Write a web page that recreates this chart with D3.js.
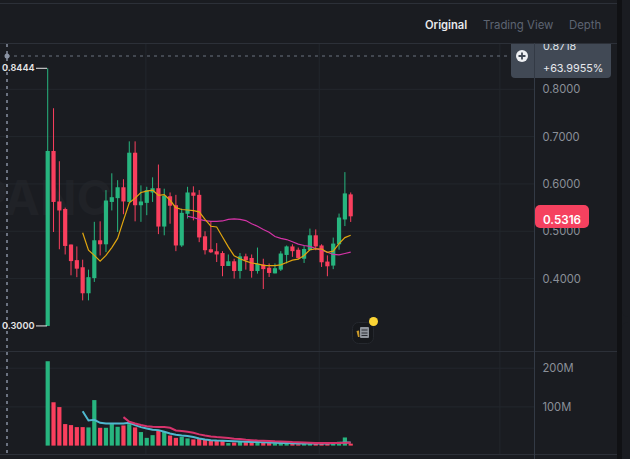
<!DOCTYPE html>
<html>
<head>
<meta charset="utf-8">
<script src="https://cdn.jsdelivr.net/npm/d3@7/dist/d3.min.js"></script>
<style>
html,body{margin:0;padding:0;background:#1a1c21;overflow:hidden}
svg{display:block}
text{font-family:Inter,"Noto Sans",sans-serif}
</style>
</head>
<body>
<svg id="chart" width="630" height="459"></svg>
<script>
// Candle series, oldest first
const opens  = [.3,.6697,.563,.547,.472,.439,.424,.369,.401,.481,.4725,.562,.570,.593,.562,.666,.555,.56,.582,.591,.51,.574,.555,.47,.537,.582,.577,.4894,.462,.4577,.454,.4267,.4366,.416,.447,.4436,.416,.43,.423,.411,.419,.45,.468,.461,.442,.46,.4915,.47,.436,.4275,.4725,.525,.578];
const closes = [.6697,.562,.544,.469,.437,.421,.369,.403,.481,.4725,.565,.572,.593,.563,.666,.555,.563,.587,.591,.51,.575,.554,.47,.539,.582,.575,.487,.46,.4556,.451,.4267,.4366,.416,.447,.4387,.416,.431,.42,.412,.422,.453,.468,.458,.4436,.4626,.4915,.468,.4345,.426,.474,.529,.58,.5316];
const highs  = [.8444,.76,.648,.55,.472,.468,.44,.419,.52,.521,.587,.6225,.608,.61,.69,.69,.597,.594,.614,.641,.59,.582,.577,.548,.594,.595,.587,.5,.5197,.475,.458,.451,.442,.454,.4527,.451,.4656,.442,.432,.432,.458,.47,.4725,.4656,.47,.5057,.504,.4725,.449,.4867,.5374,.625,.582];
const lows   = [.3,.4985,.462,.451,.407,.403,.354,.354,.393,.449,.456,.544,.4985,.536,.562,.521,.52,.534,.562,.494,.4915,.516,.458,.467,.527,.523,.477,.451,.454,.435,.405,.4267,.40,.40,.419,.402,.4106,.378,.4035,.411,.416,.432,.446,.441,.433,.46,.46,.4246,.405,.42,.461,.511,.5197];

// Moving averages on price; null until the window fills
const maFast = [null,null,null,null,null,null,.497,.46,.449,.437,.449,.4656,.485,.523,.56,.57,.582,.585,.587,.576,.5775,.5655,.55,.546,.545,.5437,.541,.525,.5106,.509,.488,.467,.448,.442,.437,.433,.431,.428,.4275,.4275,.429,.434,.439,.441,.449,.461,.463,.4626,.4556,.458,.474,.4867,.4915];
const maSlow = [null,null,null,null,null,null,null,null,null,null,null,null,null,null,null,null,null,null,null,null,null,null,null,null,.5317,.529,.525,.5226,.521,.521,.5218,.525,.526,.525,.5226,.516,.5106,.5036,.498,.489,.485,.4825,.478,.473,.47,.468,.4634,.46,.4556,.451,.45,.453,.456];

// Traded volume in millions and its two averages
const volumes = [218,112,99.5,55.6,53,47.8,47.8,47,117.6,46,46,55.6,48.6,52,55.6,47,35,20,27,40,35.7,26,20,22.7,18.6,16,17,16,14,12.5,12.5,6.5,8,11.5,9,8,8,7,6.5,6,7,5,4,3.5,4,6,4.5,5,4,9,10,21,5];
const volMaFast = [null,null,null,null,null,null,89,65,66.7,59,57,57,57,57,59,53,47.8,44.4,41,40,35.7,31.5,28,26,25,22,18.6,16,14,13,12.5,11.6,11,10.5,10,9.5,9,8.5,8,7.5,7,6.5,6,5.5,5.5,5.5,5.5,5.5,5.5,6,6.5,8,8];
const volMaSlow = [null,null,null,null,null,null,null,null,null,null,null,null,null,73.6,61.5,57,53,50,48.6,47.8,47.8,46,39,37.5,35.7,33,29,26,23.5,22,21,19.4,17.6,17,15,14,13,12.5,12,11,10.5,10,9,8.5,8,7.5,7,6.5,6.5,6.5,7,7.5,7.5];

const priceTicks = [0.4,0.5,0.6,0.7,0.8];
const volumeTicks = [100,200];
const verticalGrid = [16.85,46.6,77.6];
const tabs = [["Original",425,"#e8e9ec",600,11.2],["Trading View",483,"#5d6472",400,11.4],["Depth",569,"#5d6472",400,11.4]];

const BG="#1a1c21", GRID="#23272d", FRAME="#2c3038", GREEN="#27b57f", RED="#fa3f5e";
const svg = d3.select("#chart");
const index = d3.range(opens.length);

const x = d3.scaleLinear().domain([0,52]).range([47.7,350.7]);
const y = d3.scaleLinear().domain([0.4,0.8]).range([278.6,89.3]);
const v = d3.scaleLinear().domain([0,200]).range([445.6,368.2]);

svg.append("rect").attr("width",630).attr("height",459).attr("fill",BG);

// Faint exchange watermark behind the candles
svg.append("text").attr("x",-23).attr("y",215).attr("font-size",48).attr("font-weight",700)
  .attr("fill","#202227").text("PANC");

// Grid
const grid = svg.append("g").attr("stroke",GRID).attr("stroke-width",1);
priceTicks.forEach(t=>grid.append("line").attr("x1",0).attr("x2",534).attr("y1",y(t)).attr("y2",y(t)));
volumeTicks.forEach(t=>grid.append("line").attr("x1",0).attr("x2",534).attr("y1",v(t)).attr("y2",v(t)));
verticalGrid.forEach(i=>grid.append("line").attr("x1",x(i)).attr("x2",x(i)).attr("y1",43).attr("y2",454));

// Panel frame
const frame = [[0,617,3.5],[0,617,43.5],[0,617,351.5],[0,617,454.5]];
svg.selectAll(".frame").data(frame).join("line").attr("class","frame")
  .attr("x1",d=>d[0]).attr("x2",d=>d[1]).attr("y1",d=>d[2]).attr("y2",d=>d[2]).attr("stroke",FRAME);
svg.append("line").attr("x1",534.5).attr("x2",534.5).attr("y1",43).attr("y2",459).attr("stroke","#333a45");

// Dark gutter and the neighbouring panel on the right edge
svg.append("rect").attr("x",617).attr("y",0).attr("width",5).attr("height",459).attr("fill","#101114");
svg.append("rect").attr("x",622).attr("y",-5).attr("width",14).attr("height",322).attr("rx",6).attr("fill","#1a1c21");
svg.append("rect").attr("x",622).attr("y",322).attr("width",14).attr("height",142).attr("rx",6).attr("fill","#1a1c21");

// Tabs
tabs.forEach(t=>svg.append("text").attr("x",t[1]).attr("y",29).attr("font-size",t[4])
  .attr("font-weight",t[3]).attr("fill",t[2]).text(t[0]));

// Crosshair
const dash="3,4";
svg.append("line").attr("x1",7).attr("x2",511).attr("y1",56).attr("y2",56)
  .attr("stroke","#6b7280").attr("stroke-width",1.2).attr("stroke-dasharray",dash);
svg.append("line").attr("x1",7).attr("x2",7).attr("y1",44).attr("y2",454)
  .attr("stroke","#6b7280").attr("stroke-width",2).attr("stroke-dasharray",dash);
svg.append("circle").attr("cx",7).attr("cy",56).attr("r",2.5).attr("fill","#8a93a3");

// Candles
const candle = svg.append("g").selectAll("g").data(index).join("g")
  .attr("fill",i=>closes[i]>=opens[i]?GREEN:RED);
candle.append("rect").attr("x",i=>x(i)-0.5).attr("width",1)
  .attr("y",i=>y(highs[i])).attr("height",i=>y(lows[i])-y(highs[i]));
candle.append("rect").attr("x",i=>x(i)-2.1).attr("width",4.2)
  .attr("y",i=>y(Math.max(opens[i],closes[i])))
  .attr("height",i=>Math.max(1,Math.abs(y(opens[i])-y(closes[i]))));

// Price averages
const priceLine = d3.line().defined(i=>i[1]!==null).x(d=>x(d[0])).y(d=>y(d[1]));
const pairs = s=>s.map((d,i)=>[i,d]);
svg.append("path").attr("d",priceLine(pairs(maSlow))).attr("fill","none").attr("stroke","#d433a6").attr("stroke-width",1.2);
svg.append("path").attr("d",priceLine(pairs(maFast))).attr("fill","none").attr("stroke","#e0a50f").attr("stroke-width",1.2);

// Volume bars and averages
svg.append("g").selectAll("rect").data(index).join("rect")
  .attr("x",i=>x(i)-2.1).attr("width",4.2)
  .attr("y",i=>v(volumes[i])).attr("height",i=>v(0)-v(volumes[i]))
  .attr("fill",i=>closes[i]>=opens[i]?GREEN:RED);
const volLine = d3.line().defined(d=>d[1]!==null).x(d=>x(d[0])).y(d=>v(d[1]));
svg.append("path").attr("d",volLine(pairs(volMaFast))).attr("fill","none").attr("stroke","#4fb9cf").attr("stroke-width",2);
svg.append("path").attr("d",volLine(pairs(volMaSlow))).attr("fill","none").attr("stroke","#d6336c").attr("stroke-width",2);

// Right-hand axes
const priceAxis = d3.axisRight(y).tickValues(priceTicks).tickFormat(d3.format(".4f")).tickSize(0).tickPadding(8);
const volumeAxis = d3.axisRight(v).tickValues(volumeTicks).tickFormat(d=>d+"M").tickSize(0).tickPadding(8);
[priceAxis,volumeAxis].forEach(a=>{
  const g = svg.append("g").attr("transform","translate(534.5,0)").call(a);
  g.select(".domain").remove();
  g.selectAll("text").attr("fill","#8b9099").attr("font-size",11.2).attr("font-family","Inter,'Noto Sans',sans-serif");
});

// Extremes with leader lines
[0.8444,0.3].forEach(p=>{
  svg.append("line").attr("x1",36).attr("x2",47).attr("y1",y(p)).attr("y2",y(p)).attr("stroke","#e6e6e6");
  svg.append("text").attr("x",2).attr("y",y(p)+3).attr("font-size",9.2).attr("font-weight",600)
    .attr("fill","#e6e6e6").text(p.toFixed(4));
});

// Last price tag
svg.append("rect").attr("x",535).attr("y",205).attr("width",54).attr("height",23).attr("rx",5).attr("fill","#f5415f");
svg.append("text").attr("x",562).attr("y",223.5).attr("text-anchor","middle").attr("font-size",11.7).attr("font-weight",600)
  .attr("fill","#fff").text(closes[52].toFixed(4));

// Crosshair price tag with add button
svg.append("path").attr("d","M511,44H611V74a4,4 0 0 1 -4,4H515a4,4 0 0 1 -4,-4Z").attr("fill","#414955");
svg.append("line").attr("x1",534.5).attr("x2",534.5).attr("y1",44).attr("y2",78).attr("stroke","#333a45");
svg.append("circle").attr("cx",522).attr("cy",56).attr("r",6).attr("fill","#eef0f3");
svg.append("path").attr("d","M522,52.5V59.5M518.5,56H525.5").attr("stroke","#414955").attr("stroke-width",1.8);
svg.append("clipPath").attr("id","tag").append("rect").attr("x",511).attr("y",44).attr("width",100).attr("height",34);
svg.append("text").attr("x",543).attr("y",50).attr("clip-path","url(#tag)").attr("font-size",10.8).attr("fill","#dfe2e7").text("0.8718");
svg.append("text").attr("x",543).attr("y",72).attr("font-size",10.8).attr("fill","#e6e8ec").text("+63.9955%");

// News marker
svg.append("rect").attr("x",352.5).attr("y",322.5).attr("width",21).attr("height",21).attr("rx",6).attr("fill","#16181c").attr("stroke","#25282e");
svg.append("rect").attr("x",360).attr("y",327).attr("width",9).attr("height",11).attr("rx",1).attr("fill","#8f949c");
svg.append("path").attr("d","M361.5,330H367.5M361.5,333H367.5M361.5,335.5H367.5").attr("stroke","#2a2d33").attr("stroke-width",1);
svg.append("path").attr("d","M356.5,331L359,330.5L359.5,337L358,337Z").attr("fill","#c8982a");
svg.append("circle").attr("cx",373.5).attr("cy",321.5).attr("r",4.5).attr("fill","#fcd535");
</script>
</body>
</html>
